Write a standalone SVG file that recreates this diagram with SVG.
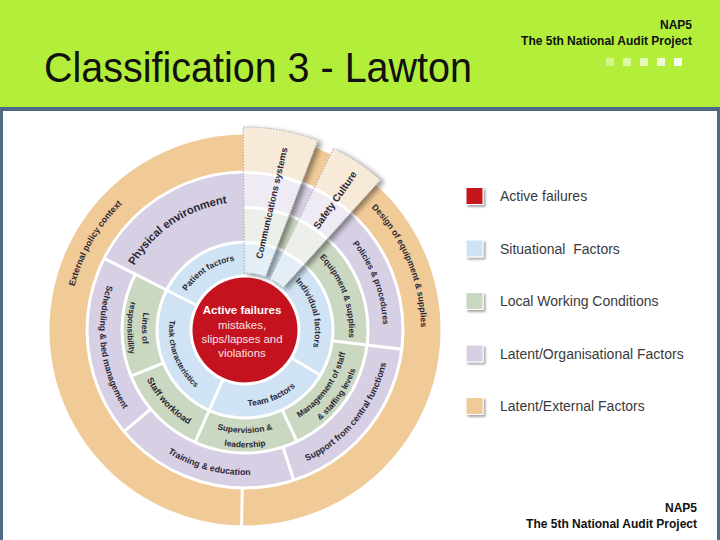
<svg xmlns="http://www.w3.org/2000/svg" width="720" height="540" viewBox="0 0 720 540">
<defs>
<style>
.t{font-family:"Liberation Sans",Arial,sans-serif;font-weight:bold;fill:#2b2733}
.leg{font-family:"Liberation Sans",Arial,sans-serif;font-size:14px;fill:#3a3a3a}
.hd{font-family:"Liberation Sans",Arial,sans-serif;font-weight:bold;font-size:12px;fill:#111}
.sep{stroke:#fff;stroke-width:3;fill:none}
.red{fill:#c4121f}.blue{fill:#cfe3f4}.green{fill:#cad7c1}.purple{fill:#d7d0e4}.orange{fill:#f0ca97}
.pb{fill:#e3eef7}.pg{fill:#edf0ea}.pp{fill:#efebf4}.po{fill:#f8ead8}
.dot{fill:none;stroke:#a8a8a8;stroke-width:1;stroke-dasharray:1.5 1.5}
</style>
<filter id="wsh" x="-40%" y="-20%" width="180%" height="140%">
<feGaussianBlur in="SourceAlpha" stdDeviation="2.5"/>
<feOffset dx="4" dy="2"/>
<feComponentTransfer><feFuncA type="linear" slope="0.4"/></feComponentTransfer>
<feMerge><feMergeNode/><feMergeNode in="SourceGraphic"/></feMerge>
</filter>
<filter id="lsh" x="-30%" y="-30%" width="160%" height="160%">
<feGaussianBlur in="SourceAlpha" stdDeviation="1.2"/>
<feOffset dx="1.5" dy="1.5"/>
<feComponentTransfer><feFuncA type="linear" slope="0.35"/></feComponentTransfer>
<feMerge><feMergeNode/><feMergeNode in="SourceGraphic"/></feMerge>
</filter>
<path id="pExt" d="M92.58,418 A176,176 0 0 1 245,154"/>
<path id="pDes" d="M267.97,155.51 A176,176 0 0 1 384.63,437.14"/>
<path id="pPhy" d="M117.31,338.93 A128,128 0 0 1 301.11,214.95"/>
<path id="pSch" d="M156.73,214.96 A145,145 0 0 0 189.51,463.96"/>
<path id="pTra" d="M104.94,367.53 A145,145 0 0 0 347.53,432.53"/>
<path id="pSup" d="M222.32,473.22 A145,145 0 0 0 380.37,278.04"/>
<path id="pPol" d="M267.78,193.89 A138,138 0 0 1 351.48,417.78"/>
<path id="pLin1" d="M180.1,249.9 A103,103 0 0 0 177.4,407.7"/>
<path id="pLin2" d="M171.0,238.6 A117.5,117.5 0 0 0 167.9,418.7"/>
<path id="pSta" d="M135.82,316.59 A110,110 0 0 0 250.76,439.85"/>
<path id="pSv1" d="M166.1,396.2 A103,103 0 0 0 323.9,396.2"/>
<path id="pSv2" d="M155.0,405.5 A117.5,117.5 0 0 0 335.0,405.5"/>
<path id="pMg1" d="M253.1,432.7 A103,103 0 0 0 344.7,304.2"/>
<path id="pMg2" d="M255.2,447.0 A117.5,117.5 0 0 0 358.5,299.6"/>
<path id="pEqu" d="M280.57,232.27 A104,104 0 0 1 335.07,382"/>
<path id="pPat" d="M175.60,320.86 A70,70 0 0 1 266.05,263.24"/>
<path id="pInd" d="M274.58,266.56 A70,70 0 0 1 302.34,370.15"/>
<path id="pTea" d="M209.32,397.10 A76,76 0 0 0 317.28,353.49"/>
<path id="pTas" d="M178.53,293.15 A76,76 0 0 0 220.26,401.86"/>
</defs>

<rect width="720" height="540" fill="#fff"/>

<g id="header">
<rect x="0" y="0" width="720" height="108" fill="#b2ee3a"/>
<rect x="0" y="107" width="720" height="4" fill="#44627f"/>
<text x="44" y="82" font-family="'Liberation Sans',Arial,sans-serif" font-size="42" fill="#111" textLength="428" lengthAdjust="spacingAndGlyphs">Classification 3 - Lawton</text>
<text class="hd" x="692" y="29" text-anchor="end">NAP5</text>
<text class="hd" x="692" y="45" text-anchor="end">The 5th National Audit Project</text>
<rect x="606" y="58" width="8" height="8" fill="#d3f58a"/>
<rect x="623" y="58" width="8" height="8" fill="#dcf79f"/>
<rect x="640" y="58" width="8" height="8" fill="#e6f9b8"/>
<rect x="657" y="58" width="8" height="8" fill="#effbd2"/>
<rect x="674" y="58" width="8" height="8" fill="#f7fdea"/>
</g>
<rect x="1.5" y="109" width="717" height="433" fill="none" stroke="#4d6a87" stroke-width="3"/>

<g id="rings">
<circle cx="245" cy="330" r="195.5" class="orange"/>
<circle cx="245" cy="330" r="159.5" fill="#fff"/>
<circle cx="245" cy="330" r="156.5" class="purple"/>
<circle cx="245" cy="330" r="124.5" fill="#fff"/>
<circle cx="245" cy="330" r="121.5" class="green"/>
<path class="purple" d="M245,330 L105.5,258.9 A156.5,156.5 0 0 1 272.2,175.9 Z"/>
<circle cx="245" cy="330" r="89.5" fill="#fff"/>
<circle cx="245" cy="330" r="86.5" class="blue"/>
<circle cx="245" cy="330" r="55.5" fill="#fff"/>
</g>

<g id="separators">
<line class="sep" x1="196.0" y1="305.0" x2="104.2" y2="258.3"/>
<line class="sep" x1="292.1" y1="358.3" x2="320.4" y2="375.3"/>
<line class="sep" x1="222.6" y1="380.2" x2="195.0" y2="442.4"/>
<line class="sep" x1="163.4" y1="363.0" x2="131.0" y2="376.1"/>
<line class="sep" x1="282.2" y1="409.8" x2="297.0" y2="441.5"/>
<line class="sep" x1="332.3" y1="340.7" x2="401.8" y2="349.3"/>
<line class="sep" x1="151.5" y1="408.4" x2="124.0" y2="431.6"/>
<line class="sep" x1="282.7" y1="446.0" x2="293.8" y2="480.3"/>
<line class="sep" x1="242.3" y1="487" x2="241.6" y2="527"/>
</g>

<g id="labels">
<text class="t" font-size="8.8"><textPath href="#pExt" startOffset="50%" text-anchor="middle">External policy context</textPath></text>
<text class="t" font-size="8.7"><textPath href="#pDes" startOffset="50%" text-anchor="middle">Design of equipment &amp; supplies</textPath></text>
<text class="t" font-size="11.2"><textPath href="#pPhy" startOffset="50%" text-anchor="middle">Physical environment</textPath></text>
<text class="t" font-size="8.7"><textPath href="#pSch" startOffset="50%" text-anchor="middle">Scheduling &amp; bed management</textPath></text>
<text class="t" font-size="8.8"><textPath href="#pTra" startOffset="50%" text-anchor="middle">Training &amp; education</textPath></text>
<text class="t" font-size="8.9"><textPath href="#pSup" startOffset="50%" text-anchor="middle">Support from central functions</textPath></text>
<text class="t" font-size="8.4"><textPath href="#pPol" startOffset="50%" text-anchor="middle">Policies &amp; procedures</textPath></text>
<text class="t" font-size="8.4"><textPath href="#pLin1" startOffset="50%" text-anchor="middle">Lines of</textPath></text>
<text class="t" font-size="8.2"><textPath href="#pLin2" startOffset="50%" text-anchor="middle">responsibility</textPath></text>
<text class="t" font-size="9"><textPath href="#pSta" startOffset="50%" text-anchor="middle">Staff workload</textPath></text>
<text class="t" font-size="8.4"><textPath href="#pSv1" startOffset="50%" text-anchor="middle">Supervision &amp;</textPath></text>
<text class="t" font-size="8.4"><textPath href="#pSv2" startOffset="50%" text-anchor="middle">leadership</textPath></text>
<text class="t" font-size="8.4"><textPath href="#pMg1" startOffset="50%" text-anchor="middle">Management of staff</textPath></text>
<text class="t" font-size="8.2"><textPath href="#pMg2" startOffset="50%" text-anchor="middle">&amp; staffing levels</textPath></text>
<text class="t" font-size="8.4"><textPath href="#pEqu" startOffset="50%" text-anchor="middle">Equipment &amp; supplies</textPath></text>
<text class="t" font-size="8.4"><textPath href="#pPat" startOffset="50%" text-anchor="middle">Patient factors</textPath></text>
<text class="t" font-size="8.6"><textPath href="#pInd" startOffset="50%" text-anchor="middle">Individual factors</textPath></text>
<text class="t" font-size="8.5"><textPath href="#pTea" startOffset="50%" text-anchor="middle">Team factors</textPath></text>
<text class="t" font-size="7.9"><textPath href="#pTas" startOffset="50%" text-anchor="middle">Task characteristics</textPath></text>
</g>

<g id="wedge-comm" filter="url(#wsh)">
<path fill="#fff" d="M243.2,127 A203,203 0 0 1 317.7,140.5 L265.4,276.8 A57,57 0 0 0 244.5,273 Z"/>
<path class="po" d="M243.2,127 A203,203 0 0 1 317.7,140.5 L302.0,181.6 A159,159 0 0 0 243.6,171 Z"/>
<path class="pp" d="M243.6,174 A156,156 0 0 1 300.9,184.4 L289.4,214.2 A124,124 0 0 0 243.9,206 Z"/>
<path class="pg" d="M243.9,209 A121,121 0 0 1 288.4,217 L276.9,246.9 A89,89 0 0 0 244.2,241 Z"/>
<path class="pb" d="M244.2,244 A86,86 0 0 1 275.8,249.7 L265.4,276.8 A57,57 0 0 0 244.5,273 Z"/>
<path class="dot" d="M243.2,127 A203,203 0 0 1 317.7,140.5 L265.4,276.8 A57,57 0 0 0 244.5,273 Z"/>
</g>
<g id="wedge-safety" filter="url(#wsh)">
<path fill="#fff" d="M333.6,148.4 A202,202 0 0 1 380.2,179.9 L283.1,287.6 A57,57 0 0 0 270.0,278.8 Z"/>
<path class="po" d="M333.6,148.4 A202,202 0 0 1 380.2,179.9 L351.4,211.8 A159,159 0 0 0 314.7,187.1 Z"/>
<path class="pp" d="M313.4,189.8 A156,156 0 0 1 349.4,214.1 L328.0,237.9 A124,124 0 0 0 299.4,218.6 Z"/>
<path class="pg" d="M298.0,221.3 A121,121 0 0 1 326.0,240.1 L304.6,263.9 A89,89 0 0 0 284.0,250.0 Z"/>
<path class="pb" d="M282.7,252.7 A86,86 0 0 1 302.5,266.1 L283.1,287.6 A57,57 0 0 0 270.0,278.8 Z"/>
<path class="dot" d="M333.6,148.4 A202,202 0 0 1 380.2,179.9 L283.1,287.6 A57,57 0 0 0 270.0,278.8 Z"/>
</g>
<text class="t" font-size="9.2" text-anchor="middle" transform="translate(271.5,203) rotate(-77)" y="3.3">Communications systems</text>
<text class="t" font-size="10" text-anchor="middle" transform="translate(335,200) rotate(-55)" y="3.5">Safety Culture</text>

<g id="core">
<circle cx="245" cy="330" r="52.5" class="red"/>
<text x="242" y="314" text-anchor="middle" font-family="'Liberation Sans',Arial,sans-serif" font-weight="bold" font-size="11.5" fill="#fff">Active failures</text>
<g font-family="'Liberation Sans',Arial,sans-serif" font-size="11.4" fill="#fbe3e3" text-anchor="middle">
<text x="242" y="329">mistakes,</text>
<text x="242" y="343">slips/lapses and</text>
<text x="242" y="357">violations</text>
</g>
</g>

<g id="legend">
<g filter="url(#lsh)" stroke="#fff" stroke-width="1">
<rect x="466" y="187.5" width="17" height="17" class="red"/>
<rect x="466" y="240" width="17" height="17" class="blue"/>
<rect x="466" y="292.5" width="17" height="17" class="green"/>
<rect x="466" y="345" width="17" height="17" class="purple"/>
<rect x="466" y="397.5" width="17" height="17" class="orange"/>
</g>
<text class="leg" x="500" y="201">Active failures</text>
<text class="leg" x="500" y="253.5" style="white-space:pre">Situational  Factors</text>
<text class="leg" x="500" y="306">Local Working Conditions</text>
<text class="leg" x="500" y="358.5">Latent/Organisational Factors</text>
<text class="leg" x="500" y="411">Latent/External Factors</text>
</g>

<g id="footer">
<text class="hd" x="697" y="512" text-anchor="end">NAP5</text>
<text class="hd" x="697" y="528" text-anchor="end">The 5th National Audit Project</text>
</g>
</svg>
